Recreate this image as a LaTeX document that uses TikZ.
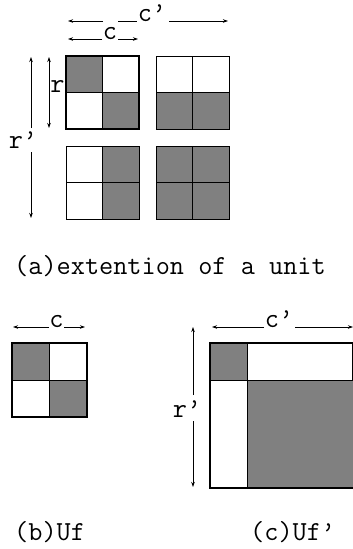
\documentclass[tikz,border=0pt]{standalone}
\usetikzlibrary{arrows.meta}
\definecolor{cellgrey}{RGB}{128,128,128}
\newcommand{\prm}{\textquoteright}
\tikzset{
  lbl/.style={font=\ttfamily\fontsize{27.5}{30}\selectfont, inner sep=0pt},
  captext/.style={font=\ttfamily\fontsize{27.5}{30}\selectfont, inner sep=0pt, anchor=base west},
  dim/.style={line width=0.7pt, -{Stealth[length=5pt,width=3.5pt]}},
  dimline/.style={line width=0.7pt},
  thickbox/.style={draw=black, line width=2.6pt},
  thinbox/.style={draw=black, line width=0.9pt},
}
\begin{document}
\begin{tikzpicture}[x=1pt,y=-1pt]
\useasboundingbox (0,0) rectangle (353,549);
\clip (0,0) rectangle (353,549);

% ---------- (a) ----------
% top c' dimension
\coordinate (cpA) at (68,21); \coordinate (cpB) at (103,21);
\coordinate (cpC) at (118,21); \coordinate (cpD) at (137,21);
\coordinate (cpE) at (169,21); \coordinate (cpF) at (228,21);
\draw[dim] (cpB) -- (cpA);
\draw[dimline] (cpC) -- (cpD);
\draw[dim] (cpE) -- (cpF);
\node[lbl, anchor=base] (lcp) at (152,21) {c\prm};

% c dimension
\coordinate (ca) at (68,39); \coordinate (cb) at (102,39);
\coordinate (cc) at (118,39); \coordinate (cd) at (138,39);
\draw[dim] (cb) -- (ca);
\draw[dim] (cc) -- (cd);
\node[lbl, anchor=base] (lc) at (110,39) {c};

% r dimension
\coordinate (ra) at (49,57); \coordinate (rb) at (49,128);
\draw[dim, {Stealth[length=5pt,width=3.5pt]}-{Stealth[length=5pt,width=3.5pt]}] (ra) -- (rb);
\node[lbl, anchor=west, fill=white, inner sep=0.5pt] (lr) at (49.6,86) {r};

% r' dimension
\coordinate (rpa) at (31,57); \coordinate (rpb) at (31,128);
\coordinate (rpc) at (31,152); \coordinate (rpd) at (31,218);
\draw[dim] (rpb) -- (rpa);
\draw[dim] (rpc) -- (rpd);
\node[lbl] (lrp) at (23,140) {r\prm};

% square TL (66,56)-(139,129)
\fill[cellgrey] (66,56) rectangle (102.5,92.5);
\fill[cellgrey] (102.5,92.5) rectangle (139,129);
\draw[line width=0.7pt] (102.5,56) -- (102.5,129) (66,92.5) -- (139,92.5);
\draw[thickbox] (66,56) rectangle (139,129);

% square TR (156,56)-(229,129)
\fill[cellgrey] (156,92.5) rectangle (229,129);
\draw[line width=0.7pt] (192.5,56) -- (192.5,129) (156,92.5) -- (229,92.5);
\draw[thinbox] (156,56) rectangle (229,129);

% square BL (66,146)-(139,219)
\fill[cellgrey] (102.5,146) rectangle (139,219);
\draw[line width=0.7pt] (102.5,146) -- (102.5,219) (66,182.5) -- (139,182.5);
\draw[thinbox] (66,146) rectangle (139,219);

% square BR (156,146)-(229,219)
\fill[cellgrey] (156,146) rectangle (229,219);
\draw[line width=0.9pt] (192.5,146) -- (192.5,219) (156,182.5) -- (229,182.5);
\draw[thinbox] (156,146) rectangle (229,219);

\node[captext] (capa) at (14,274) {(a)extention of a unit};

% ---------- (b) ----------
\coordinate (bca) at (13,327); \coordinate (bcb) at (49,327);
\coordinate (bcc) at (64,327); \coordinate (bcd) at (85,327);
\draw[dim] (bcb) -- (bca);
\draw[dim] (bcc) -- (bcd);
\node[lbl, anchor=base] (lbc) at (56.5,327) {c};

\fill[cellgrey] (12,343) rectangle (49,380);
\fill[cellgrey] (49,380) rectangle (87,417);
\draw[line width=0.7pt] (49,343) -- (49,417) (12,380) -- (87,380);
\draw[thickbox] (12,343) rectangle (87,417);

\node[captext] (capb) at (14,540) {(b)Uf};

% ---------- (c) ----------
\coordinate (cca) at (212,327); \coordinate (ccb) at (264,327);
\coordinate (ccc) at (295,327); \coordinate (ccd) at (353,327);
\draw[dim] (ccb) -- (cca);
\draw[dim] (ccc) -- (ccd);
\node[lbl, anchor=base] (lcc) at (279,327) {c\prm};

\coordinate (cra) at (193,327); \coordinate (crb) at (193,395);
\coordinate (crc) at (193,421); \coordinate (crd) at (193,487);
\draw[dim] (crb) -- (cra);
\draw[dim] (crc) -- (crd);
\node[lbl] (lcr) at (187,409) {r\prm};

\fill[cellgrey] (210,343) rectangle (247,380);
\fill[cellgrey] (247,380) rectangle (355,488);
\draw[line width=0.7pt] (247,343) -- (247,488) (210,380) -- (355,380) (352,343) -- (352,380);
\draw[thickbox] (210,343) rectangle (355,488);

\node[captext] (capc) at (250,540) {(c)Uf\prm};
\end{tikzpicture}
\end{document}
